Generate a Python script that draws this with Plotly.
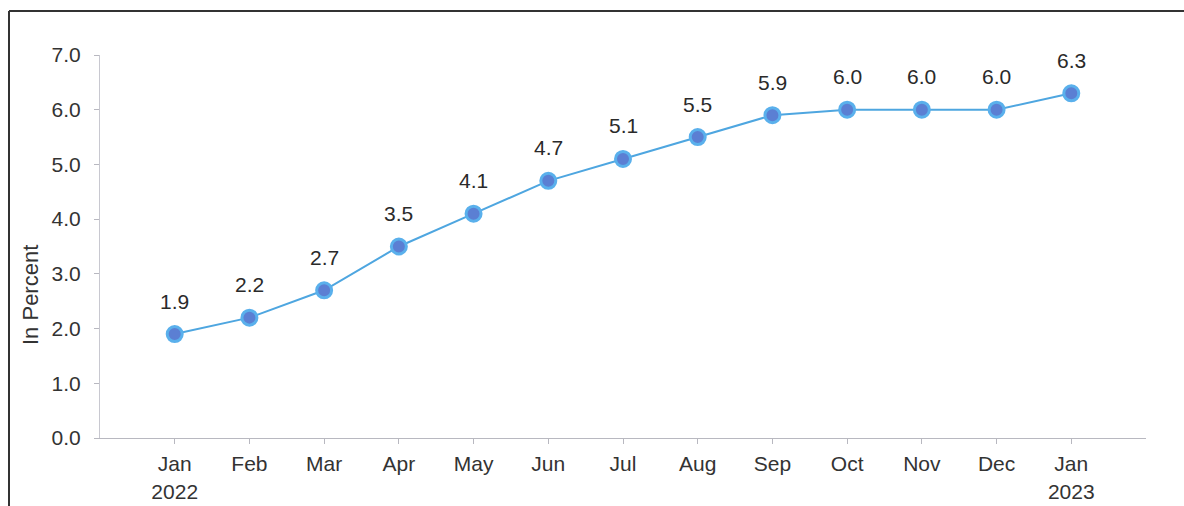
import plotly.graph_objects as go

months = ["Jan<br>2022", "Feb", "Mar", "Apr", "May", "Jun", "Jul", "Aug", "Sep", "Oct", "Nov", "Dec", "Jan<br>2023"]
values = [1.9, 2.2, 2.7, 3.5, 4.1, 4.7, 5.1, 5.5, 5.9, 6.0, 6.0, 6.0, 6.3]
value_labels = [f"{v:.1f}" for v in values]
y_ticks = [0, 1, 2, 3, 4, 5, 6, 7]
y_tick_labels = [f"{t:.1f}" for t in y_ticks]
y_title = "In Percent"

x_idx = list(range(len(months)))
FONT = "Liberation Sans, Arial, sans-serif"

fig = go.Figure()
fig.add_trace(go.Scatter(
    x=x_idx, y=values,
    mode="lines+markers",
    line=dict(color="#4ea6e0", width=2),
    marker=dict(size=15, color="#5b7fd3", line=dict(color="#5ab0ec", width=3)),
    cliponaxis=False,
    hoverinfo="skip",
))

annotations = [
    dict(x=xi, y=v, xref="x", yref="y", text=t, showarrow=False,
         yshift=33, font=dict(family=FONT, size=21, color="#2a2a2a"))
    for xi, v, t in zip(x_idx, values, value_labels)
]
annotations.append(dict(
    x=(30 - 100) / 1046, y=(438 - 295) / 383, xref="paper", yref="paper",
    text=y_title, textangle=-90, showarrow=False,
    xanchor="center", yanchor="middle",
    font=dict(family=FONT, size=22, color="#333333"),
))

fig.update_layout(
    width=1184, height=506,
    margin=dict(l=100, r=38, t=55, b=68),
    paper_bgcolor="white", plot_bgcolor="white",
    showlegend=False,
    font=dict(family=FONT, size=21, color="#333333"),
    annotations=annotations,
    xaxis=dict(
        range=[-1, 13],
        tickmode="array", tickvals=x_idx, ticktext=months,
        showgrid=False, zeroline=False, automargin=False,
        showline=True, linecolor="#b8b8c0", linewidth=1,
        ticks="outside", ticklen=5, tickcolor="#b8b8c0",
        tickfont=dict(size=21, color="#333333"),
        ticklabelstandoff=2,
    ),
    yaxis=dict(
        range=[0, 7],
        tickmode="array", tickvals=y_ticks, ticktext=y_tick_labels,
        showgrid=False, zeroline=False, automargin=False,
        showline=True, linecolor="#c8c8d0", linewidth=1,
        ticks="outside", ticklen=5, tickcolor="#b8b8c0",
        tickfont=dict(size=21, color="#333333"),
        ticklabelstandoff=9,
    ),
    shapes=[
        dict(type="line", xref="paper", yref="paper",
             x0=(9 - 100) / 1046, x1=(1184 - 100) / 1046,
             y0=(438 - 11) / 383, y1=(438 - 11) / 383,
             line=dict(color="#333333", width=2)),
        dict(type="line", xref="paper", yref="paper",
             x0=(9 - 100) / 1046, x1=(9 - 100) / 1046,
             y0=(438 - 11) / 383, y1=(438 - 506) / 383,
             line=dict(color="#333333", width=2)),
    ],
)

fig.write_html("out.html")
